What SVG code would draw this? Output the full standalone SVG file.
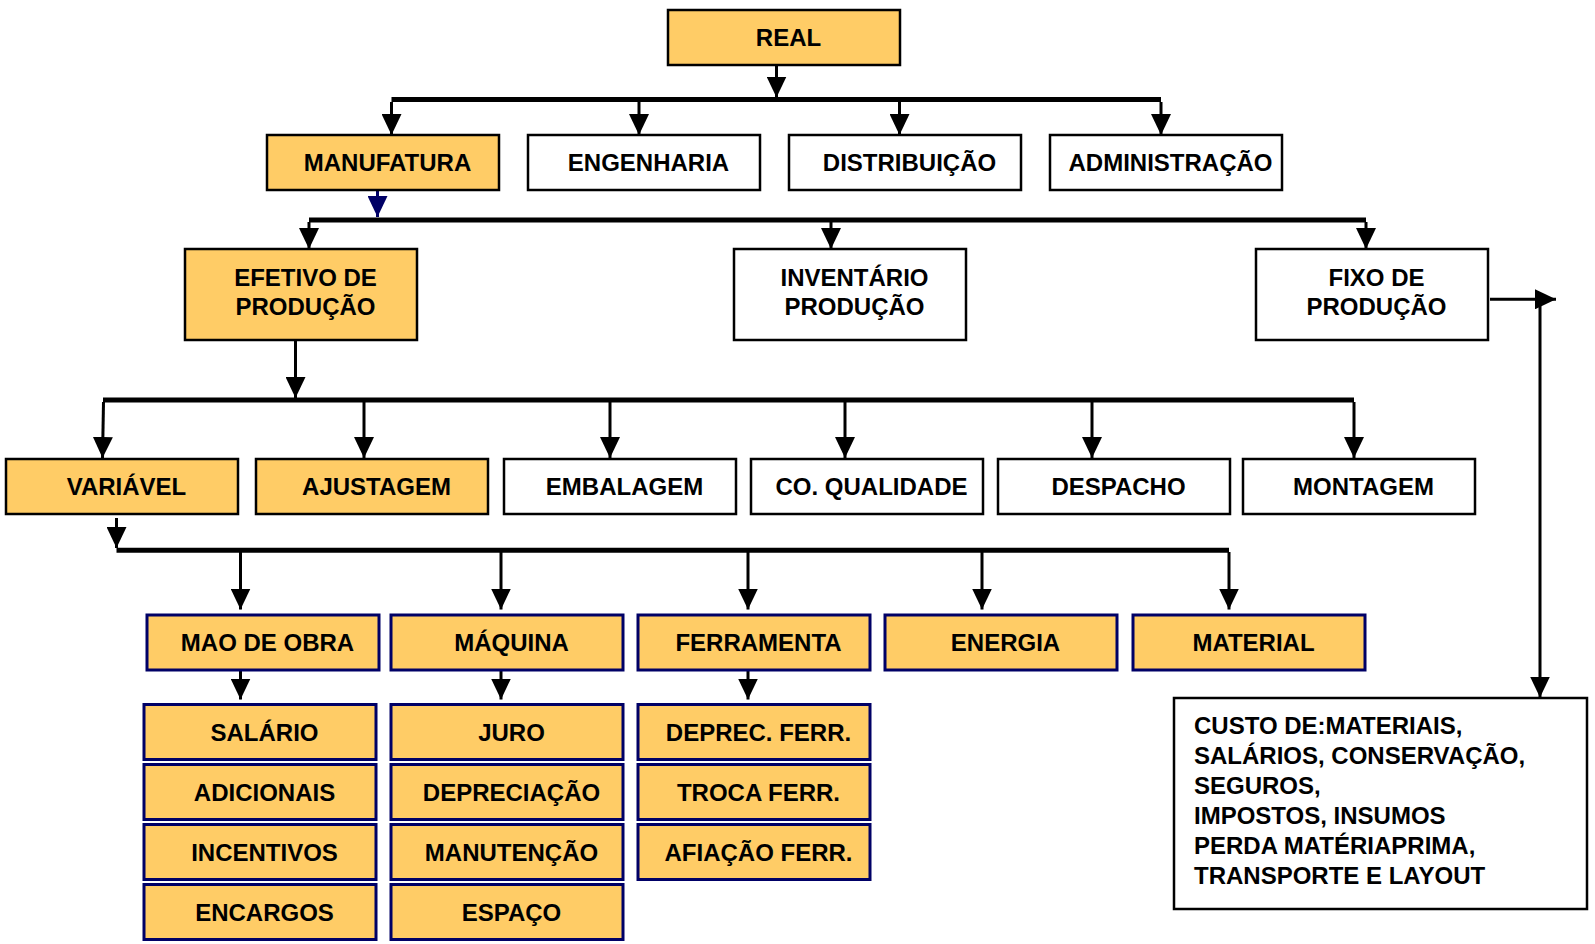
<svg xmlns="http://www.w3.org/2000/svg" width="1595" height="944" viewBox="0 0 1595 944">
  <style>
    .box { fill: #FFFFFF; stroke: #000000; stroke-width: 2.5; }
    .hot { fill: #FFCC66; stroke: #000000; stroke-width: 2.5; }
    .cost { fill: #FFCC66; stroke: #000066; stroke-width: 3; }
    .lbl { font-family: "Liberation Sans", Arial, sans-serif; font-weight: bold; font-size: 24px; fill: #000000; text-anchor: middle; }
    .note { font-family: "Liberation Sans", Arial, sans-serif; font-weight: bold; font-size: 24px; fill: #000000; }
    .bus { stroke: #000000; stroke-width: 5; fill: none; }
    .stem { stroke: #000000; stroke-width: 3; fill: none; marker-end: url(#head); }
    .stem-navy { stroke: #000066; stroke-width: 3; fill: none; marker-end: url(#head-navy); }
  </style>
  <defs>
    <marker id="head" viewBox="0 0 21 20" refX="21" refY="10" markerWidth="21" markerHeight="20" markerUnits="userSpaceOnUse" orient="auto">
      <path d="M0,0 L21,10 L0,20 z" fill="#000000"/>
    </marker>
    <marker id="head-navy" viewBox="0 0 21 20" refX="21" refY="10" markerWidth="21" markerHeight="20" markerUnits="userSpaceOnUse" orient="auto">
      <path d="M0,0 L21,10 L0,20 z" fill="#000066"/>
    </marker>
  </defs>

  <rect width="1595" height="944" fill="#FFFFFF"/>

  <!-- connectors -->
  <g id="connectors">
    <line class="stem" x1="776.5" y1="65" x2="776.5" y2="97.5"/>
    <line class="bus" x1="391.5" y1="99.5" x2="1161" y2="99.5"/>
    <line class="stem" x1="391.5" y1="102" x2="391.5" y2="135"/>
    <line class="stem" x1="639" y1="102" x2="639" y2="135"/>
    <line class="stem" x1="899.5" y1="102" x2="899.5" y2="135"/>
    <line class="stem" x1="1161" y1="102" x2="1161" y2="135"/>

    <line class="stem-navy" x1="377.5" y1="183" x2="377.5" y2="217"/>
    <line class="bus" x1="309" y1="220" x2="1366" y2="220"/>
    <line class="stem" x1="309" y1="222" x2="309" y2="249"/>
    <line class="stem" x1="831" y1="222" x2="831" y2="249"/>
    <line class="stem" x1="1366" y1="222" x2="1366" y2="249"/>

    <line class="stem" x1="295.5" y1="340" x2="295.5" y2="398"/>
    <line class="bus" x1="103" y1="400" x2="1354" y2="400"/>
    <line class="stem" x1="103.5" y1="402" x2="102.5" y2="458"/>
    <line class="stem" x1="364" y1="402" x2="364" y2="458"/>
    <line class="stem" x1="610" y1="402" x2="610" y2="458"/>
    <line class="stem" x1="845" y1="402" x2="845" y2="458"/>
    <line class="stem" x1="1092" y1="402" x2="1092" y2="458"/>
    <line class="stem" x1="1354" y1="402" x2="1354" y2="458"/>

    <line class="stem" x1="116.5" y1="518" x2="116.5" y2="548"/>
    <line class="bus" x1="116.5" y1="550.3" x2="1229" y2="550.3"/>
    <line class="stem" x1="240.5" y1="552" x2="240.5" y2="609.5"/>
    <line class="stem" x1="501" y1="552" x2="501" y2="609.5"/>
    <line class="stem" x1="748" y1="552" x2="748" y2="609.5"/>
    <line class="stem" x1="982" y1="552" x2="982" y2="609.5"/>
    <line class="stem" x1="1229" y1="552" x2="1229" y2="609.5"/>

    <line class="stem" x1="240.5" y1="670" x2="240.5" y2="699.5"/>
    <line class="stem" x1="501" y1="670" x2="501" y2="699.5"/>
    <line class="stem" x1="748" y1="670" x2="748" y2="699.5"/>

    <line class="stem" x1="1490" y1="299.3" x2="1556" y2="299.3"/>
    <line class="stem" x1="1540" y1="305" x2="1540" y2="697.5"/>
  </g>

  <!-- top -->
  <g id="real"><rect class="hot" x="668" y="10" width="232" height="55"/><text class="lbl" x="788.5" y="46">REAL</text></g>

  <!-- departments -->
  <g id="manufatura"><rect class="hot" x="267" y="135" width="232" height="55"/><text class="lbl" x="387.5" y="171">MANUFATURA</text></g>
  <g id="engenharia"><rect class="box" x="528" y="135" width="232" height="55"/><text class="lbl" x="648.5" y="171">ENGENHARIA</text></g>
  <g id="distribuicao"><rect class="box" x="789" y="135" width="232" height="55"/><text class="lbl" x="909.5" y="171">DISTRIBUIÇÃO</text></g>
  <g id="administracao"><rect class="box" x="1050" y="135" width="232" height="55"/><text class="lbl" x="1170.5" y="171">ADMINISTRAÇÃO</text></g>

  <!-- production groups -->
  <g id="efetivo"><rect class="hot" x="185" y="249" width="232" height="91"/><text class="lbl" x="305.5" y="285.5">EFETIVO DE</text><text class="lbl" x="305.5" y="314.5">PRODUÇÃO</text></g>
  <g id="inventario"><rect class="box" x="734" y="249" width="232" height="91"/><text class="lbl" x="854.5" y="285.5">INVENTÁRIO</text><text class="lbl" x="854.5" y="314.5">PRODUÇÃO</text></g>
  <g id="fixo"><rect class="box" x="1256" y="249" width="232" height="91"/><text class="lbl" x="1376.5" y="285.5">FIXO DE</text><text class="lbl" x="1376.5" y="314.5">PRODUÇÃO</text></g>

  <!-- sectors -->
  <g id="variavel"><rect class="hot" x="6" y="459" width="232" height="55"/><text class="lbl" x="126.5" y="495">VARIÁVEL</text></g>
  <g id="ajustagem"><rect class="hot" x="256" y="459" width="232" height="55"/><text class="lbl" x="376.5" y="495">AJUSTAGEM</text></g>
  <g id="embalagem"><rect class="box" x="504" y="459" width="232" height="55"/><text class="lbl" x="624.5" y="495">EMBALAGEM</text></g>
  <g id="qualidade"><rect class="box" x="751" y="459" width="232" height="55"/><text class="lbl" x="871.5" y="495">CO. QUALIDADE</text></g>
  <g id="despacho"><rect class="box" x="998" y="459" width="232" height="55"/><text class="lbl" x="1118.5" y="495">DESPACHO</text></g>
  <g id="montagem"><rect class="box" x="1243" y="459" width="232" height="55"/><text class="lbl" x="1363.5" y="495">MONTAGEM</text></g>

  <!-- variable cost items -->
  <g id="mao-de-obra"><rect class="cost" x="147" y="615" width="232" height="55"/><text class="lbl" x="267.5" y="651">MAO DE OBRA</text></g>
  <g id="maquina"><rect class="cost" x="391" y="615" width="232" height="55"/><text class="lbl" x="511.5" y="651">MÁQUINA</text></g>
  <g id="ferramenta"><rect class="cost" x="638" y="615" width="232" height="55"/><text class="lbl" x="758.5" y="651">FERRAMENTA</text></g>
  <g id="energia"><rect class="cost" x="885" y="615" width="232" height="55"/><text class="lbl" x="1005.5" y="651">ENERGIA</text></g>
  <g id="material"><rect class="cost" x="1133" y="615" width="232" height="55"/><text class="lbl" x="1253.5" y="651">MATERIAL</text></g>

  <!-- labour details -->
  <g id="salario"><rect class="cost" x="144" y="704.5" width="232" height="55"/><text class="lbl" x="264.5" y="740.5">SALÁRIO</text></g>
  <g id="adicionais"><rect class="cost" x="144" y="764.5" width="232" height="55"/><text class="lbl" x="264.5" y="800.5">ADICIONAIS</text></g>
  <g id="incentivos"><rect class="cost" x="144" y="824.5" width="232" height="55"/><text class="lbl" x="264.5" y="860.5">INCENTIVOS</text></g>
  <g id="encargos"><rect class="cost" x="144" y="884.5" width="232" height="55"/><text class="lbl" x="264.5" y="920.5">ENCARGOS</text></g>

  <!-- machine details -->
  <g id="juro"><rect class="cost" x="391" y="704.5" width="232" height="55"/><text class="lbl" x="511.5" y="740.5">JURO</text></g>
  <g id="depreciacao"><rect class="cost" x="391" y="764.5" width="232" height="55"/><text class="lbl" x="511.5" y="800.5">DEPRECIAÇÃO</text></g>
  <g id="manutencao"><rect class="cost" x="391" y="824.5" width="232" height="55"/><text class="lbl" x="511.5" y="860.5">MANUTENÇÃO</text></g>
  <g id="espaco"><rect class="cost" x="391" y="884.5" width="232" height="55"/><text class="lbl" x="511.5" y="920.5">ESPAÇO</text></g>

  <!-- tool details -->
  <g id="deprec-ferr"><rect class="cost" x="638" y="704.5" width="232" height="55"/><text class="lbl" x="758.5" y="740.5">DEPREC. FERR.</text></g>
  <g id="troca-ferr"><rect class="cost" x="638" y="764.5" width="232" height="55"/><text class="lbl" x="758.5" y="800.5">TROCA FERR.</text></g>
  <g id="afiacao-ferr"><rect class="cost" x="638" y="824.5" width="232" height="55"/><text class="lbl" x="758.5" y="860.5">AFIAÇÃO FERR.</text></g>

  <!-- fixed cost breakdown -->
  <g id="custo-fixo">
    <rect class="box" x="1174" y="698" width="413" height="211"/>
    <text class="note" x="1194" y="734">CUSTO DE:MATERIAIS,</text>
    <text class="note" x="1194" y="764">SALÁRIOS, CONSERVAÇÃO,</text>
    <text class="note" x="1194" y="794">SEGUROS,</text>
    <text class="note" x="1194" y="823.5">IMPOSTOS, INSUMOS</text>
    <text class="note" x="1194" y="853.5">PERDA MATÉRIAPRIMA,</text>
    <text class="note" x="1194" y="883.5">TRANSPORTE E LAYOUT</text>
  </g>
</svg>
